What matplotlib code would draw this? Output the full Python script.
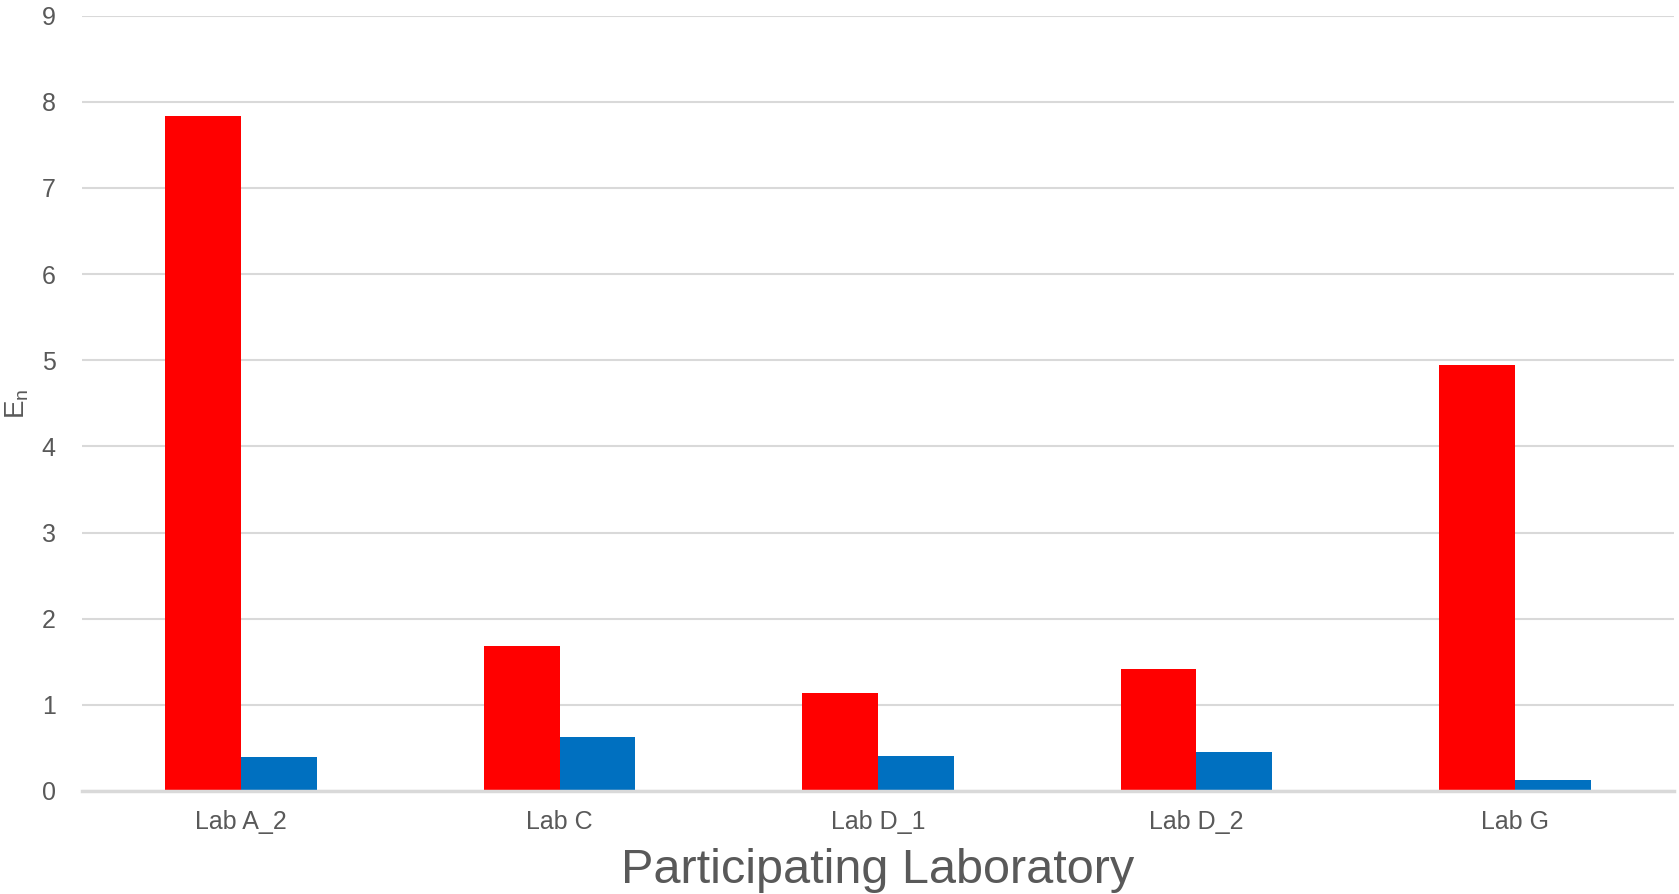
import numpy as np
import matplotlib.pyplot as plt

labs = ["Lab A_2", "Lab C", "Lab D_1", "Lab D_2", "Lab G"]
en_red = [7.83, 1.68, 1.135, 1.417, 4.94]
en_blue = [0.39, 0.627, 0.406, 0.456, 0.128]

plt.rcParams["font.family"] = ["Liberation Sans", "DejaVu Sans"]
grey = "#595959"

fig = plt.figure(figsize=(16.79, 8.94), dpi=100)
ax = fig.add_axes([82 / 1679, 1 - 791 / 894, (1674 - 82) / 1679, (791 - 15.7) / 894])

x = np.arange(len(labs))
w = 0.238
ax.bar(x - w / 2, en_red, width=w, color="#FF0000", zorder=3)
ax.bar(x + w / 2, en_blue, width=w, color="#0070C0", zorder=3)

ax.set_xlim(-0.5, len(labs) - 0.5)
ax.set_ylim(0, 9)
ax.set_yticks(range(0, 10))
ax.grid(axis="y", color="#d9d9d9", linewidth=1.5, zorder=0)
ax.set_axisbelow(True)
for s in ["top", "right", "left"]:
    ax.spines[s].set_visible(False)
ax.spines["bottom"].set_color("#d9d9d9")
ax.spines["bottom"].set_linewidth(2.5)
ax.spines["bottom"].set_zorder(4)

ax.set_xticks(x)
ax.set_xticklabels(labs)
ax.tick_params(axis="both", length=0, labelsize=18, labelcolor=grey)
ax.tick_params(axis="y", pad=19)
ax.tick_params(axis="x", pad=14)

ax.set_xlabel("Participating Laboratory", fontsize=35, color=grey, labelpad=10)
ax.set_ylabel(r"$\mathregular{E_n}$", fontsize=20, color=grey, labelpad=8)

fig.savefig("out.png", dpi=100)
